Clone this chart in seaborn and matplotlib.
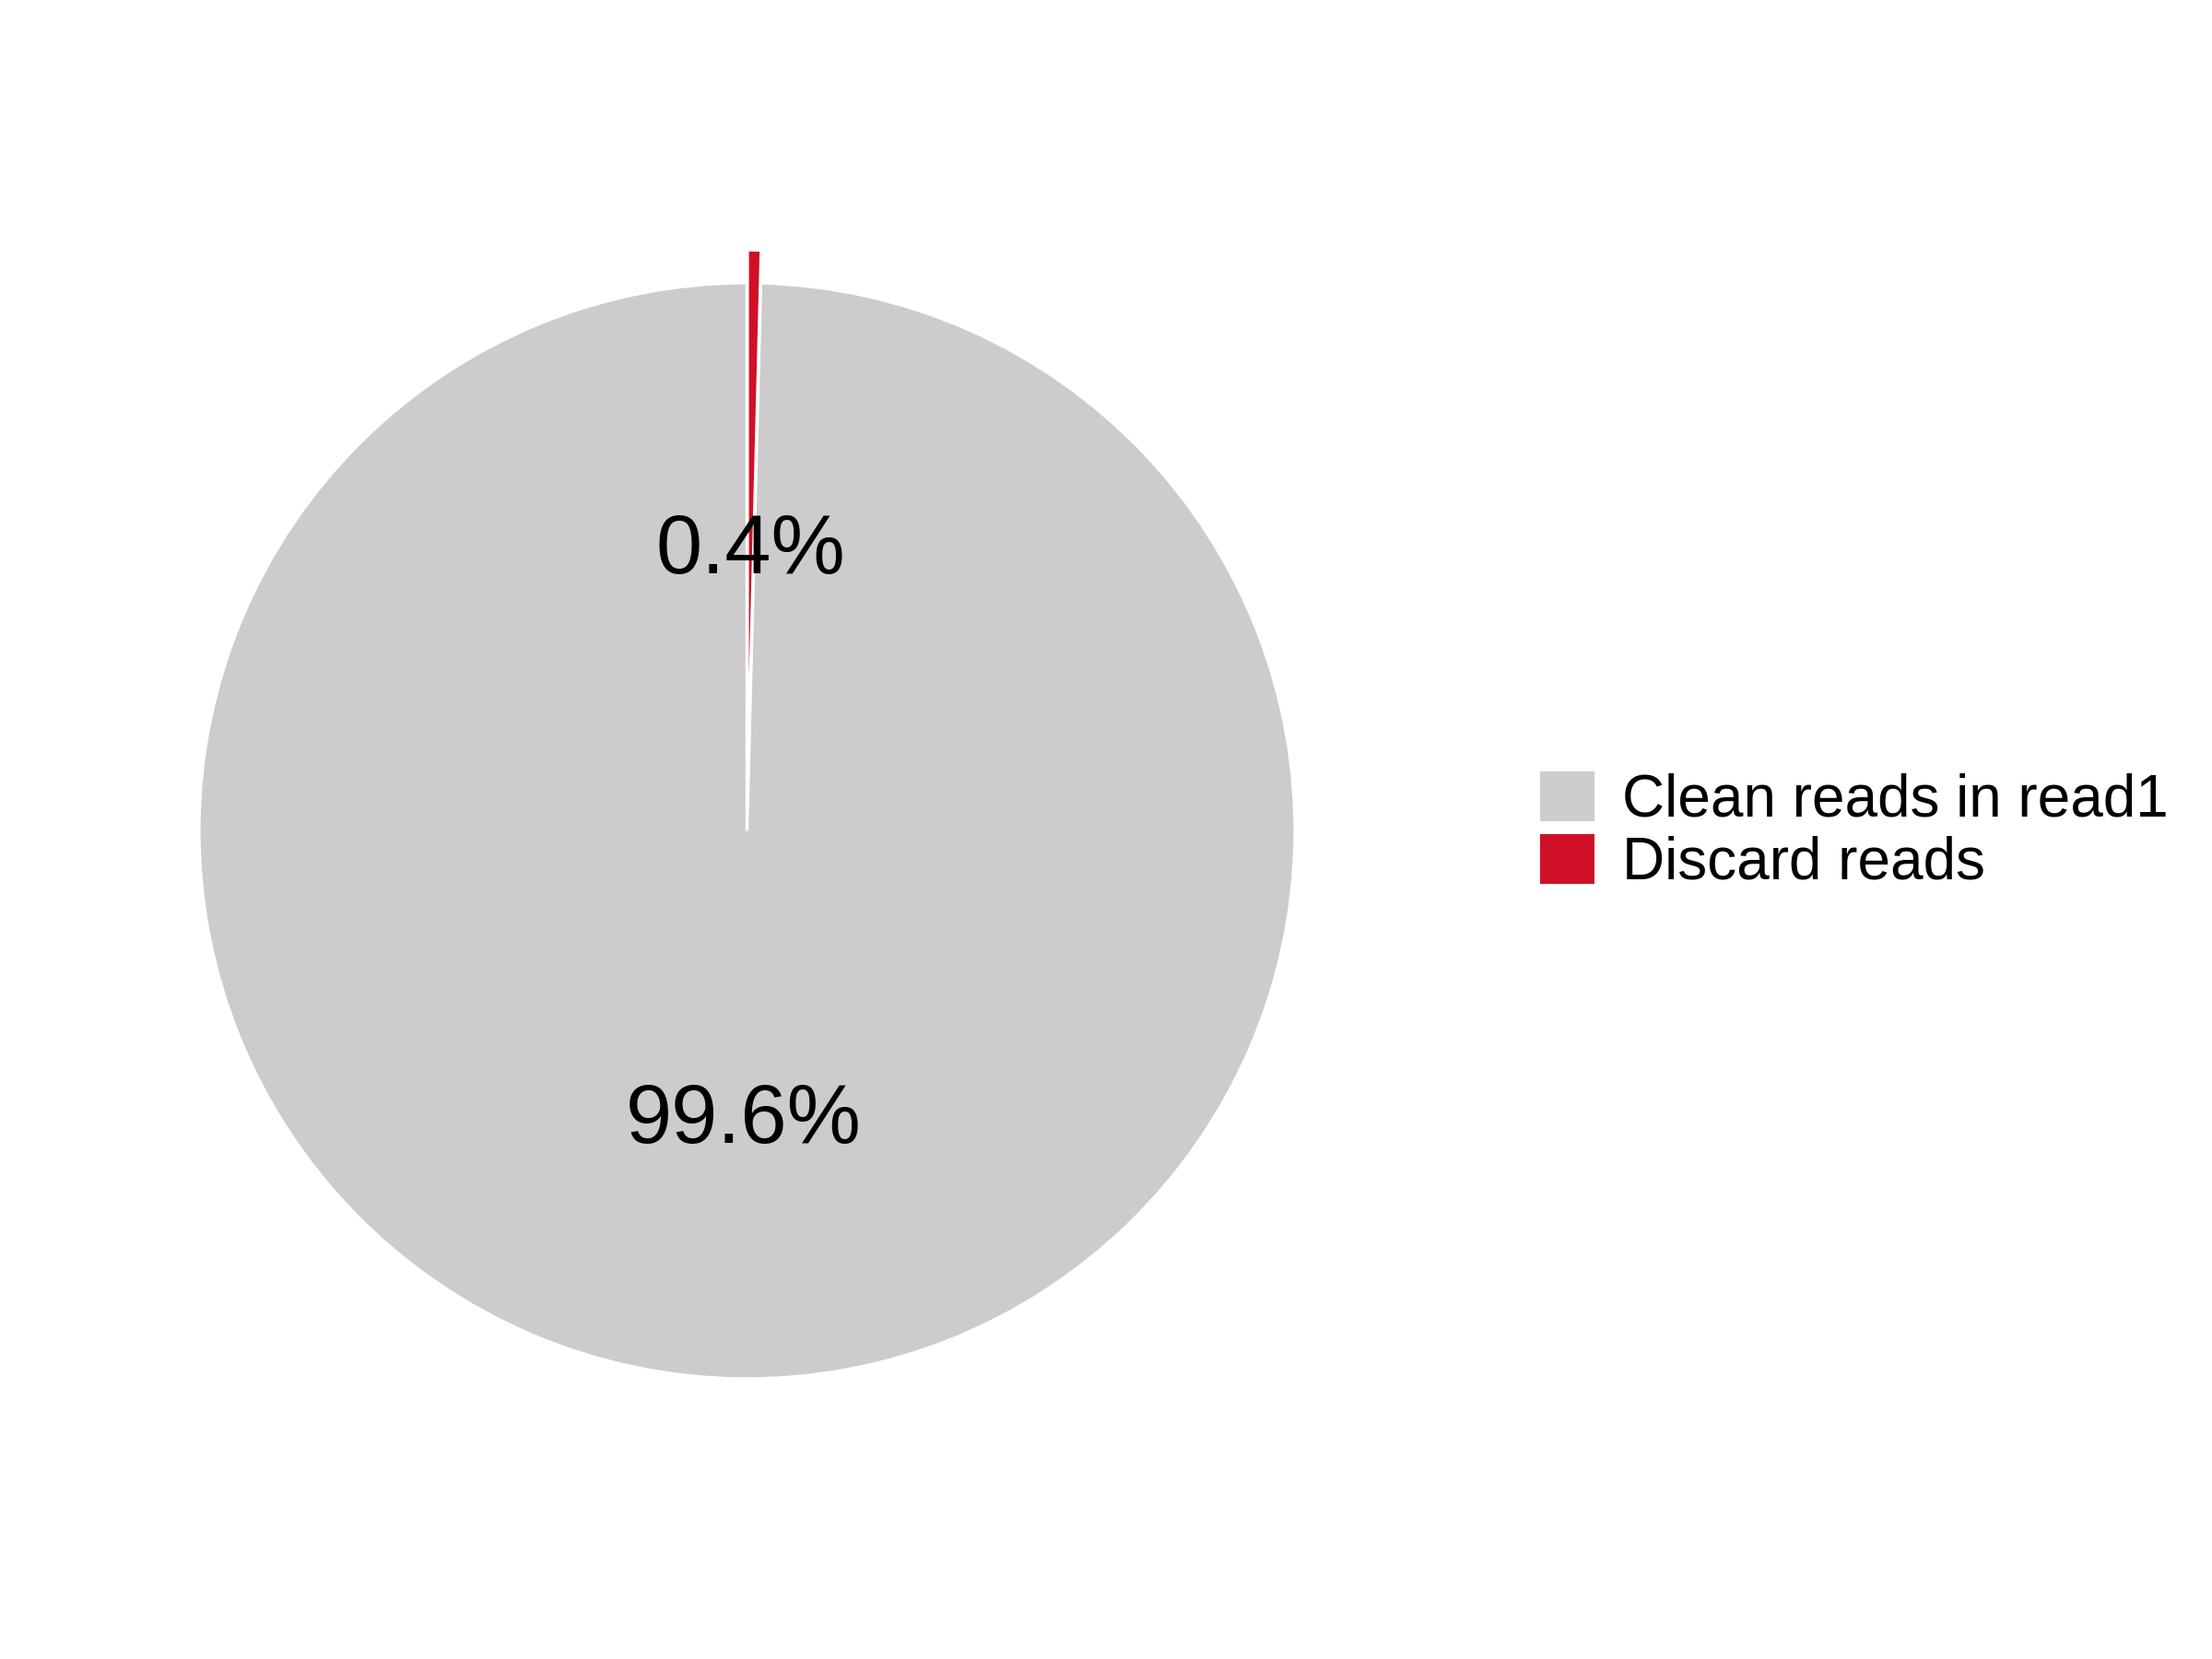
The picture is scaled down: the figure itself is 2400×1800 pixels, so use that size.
import matplotlib
matplotlib.use("Agg")
import numpy as np
import matplotlib.pyplot as plt
import seaborn as sns

# data
labels = ["Clean reads in read1", "Discard reads"]
values = [99.6, 0.4]
colors = ["#CCCCCC", "#D01027"]
explode = [0.0, 0.06]

sns.set_theme(style="white")
plt.rcParams['font.family'] = ['Liberation Sans', 'DejaVu Sans']
plt.rcParams['text.color'] = 'black'

fig = plt.figure(figsize=(12, 9), dpi=200)
ax = fig.add_axes([0.0652, 0.1358, 0.545, 0.7268])

wedges, texts, autotexts = ax.pie(
    values,
    colors=colors,
    explode=explode,
    startangle=90,
    counterclock=True,
    autopct='%1.1f%%',
    pctdistance=0.53,
    wedgeprops={'edgecolor': 'white', 'linewidth': 1.2},
    textprops={'fontsize': 32.5, 'color': 'black'},
)
# put the small slice's label where it would sit without the explode offset
for w, t, e in zip(wedges, autotexts, explode):
    theta = np.deg2rad((w.theta1 + w.theta2) / 2)
    x, y = t.get_position()
    t.set_position((x - e * np.cos(theta), y - e * np.sin(theta) - 0.02 * (e > 0)))

ax.set_xlim(-1.1, 1.1)
ax.set_ylim(-1.1, 1.1)
ax.set_aspect('equal')
ax.axis('off')

leg = fig.legend(
    wedges, labels,
    loc='center left',
    bbox_to_anchor=(0.6962, 0.499),
    frameon=False,
    fontsize=23,
    handlelength=0.92,
    handleheight=0.92,
    handletextpad=0.48,
    labelspacing=0.1,
    borderaxespad=0,
    borderpad=0,
)
for h in leg.legend_handles:
    h.set_edgecolor('none')
for t in leg.get_texts():
    t.set_color('black')

fig.savefig("out.png", dpi=200)
